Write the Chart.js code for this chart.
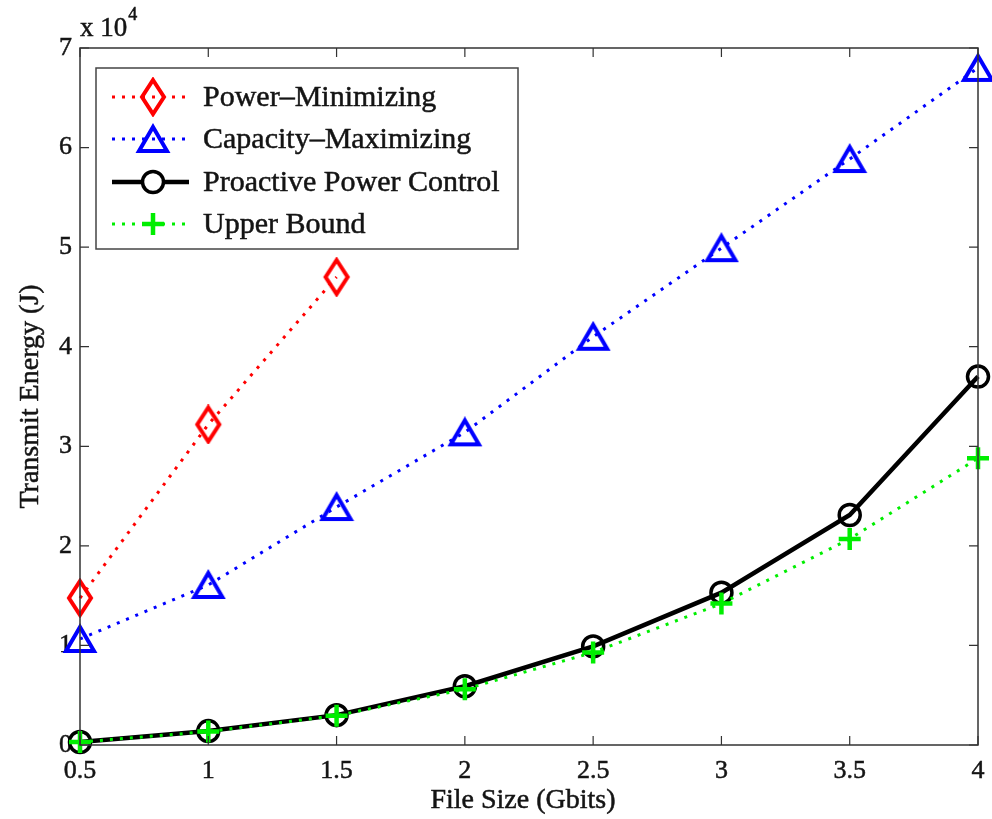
<!DOCTYPE html>
<html>
<head>
<meta charset="utf-8">
<script src="https://cdn.jsdelivr.net/npm/chart.js@4"></script>
<style>
html,body{margin:0;padding:0;background:#fff;}
#wrap{width:992px;height:819px;}
</style>
</head>
<body>
<div id="wrap"><canvas id="c" width="992" height="819"></canvas></div>
<script>
const fileSizes = [0.5, 1, 1.5, 2, 2.5, 3, 3.5, 4];
const powerMin = [14760, 32190, 47000];
const capacityMax = [10650, 16070, 23900, 31400, 41000, 49900, 58850, 68000];
const proactive = [300, 1400, 3000, 5900, 9900, 15300, 23100, 37000];
const upperBound = [300, 1350, 2950, 5600, 9300, 14200, 20700, 28800];
const xTicks = [0.5, 1, 1.5, 2, 2.5, 3, 3.5, 4];
const yTicks = [0, 1, 2, 3, 4, 5, 6, 7];
const yScaleFactor = 10000;
const seriesNames = ['Power\u2013Minimizing', 'Capacity\u2013Maximizing', 'Proactive Power Control', 'Upper Bound'];
const xTitle = 'File Size (Gbits)';
const yTitle = 'Transmit Energy (J)';

const FONT = '"Liberation Serif", "Times New Roman", serif';
const TXT = '#141414';
const STROKE_W = 0.5;

function makeDiamond(color) {
  const w = 30, h = 40, c = document.createElement('canvas');
  c.width = w; c.height = h;
  const g = c.getContext('2d');
  g.strokeStyle = color; g.lineWidth = 4; g.lineJoin = 'miter';
  g.beginPath();
  g.moveTo(w/2, 3); g.lineTo(w-4, h/2); g.lineTo(w/2, h-3); g.lineTo(4, h/2); g.closePath();
  g.stroke();
  return c;
}
function makeTriangle(color) {
  const w = 36, h = 32, c = document.createElement('canvas');
  c.width = w; c.height = h;
  const g = c.getContext('2d');
  g.strokeStyle = color; g.lineWidth = 4; g.lineJoin = 'miter';
  g.beginPath();
  g.moveTo(w/2, 4); g.lineTo(w-4, h-4); g.lineTo(4, h-4); g.closePath();
  g.stroke();
  return c;
}
const diamondImg = makeDiamond('#ff0000');
const triangleImg = makeTriangle('#0000ff');

const toXY = (arr) => arr.map((v, i) => ({x: fileSizes[i], y: v}));

function txt(ctx, s, x, y) {
  ctx.fillText(s, x, y);
  ctx.lineWidth = STROKE_W;
  ctx.strokeStyle = TXT;
  ctx.strokeText(s, x, y);
}

const boxPlugin = {
  id: 'boxPlugin',
  afterDraw(chart) {
    const ctx = chart.ctx;
    const a = chart.chartArea;
    const xs = chart.scales.x, ys = chart.scales.y;
    ctx.save();
    // box
    ctx.strokeStyle = '#333';
    ctx.lineWidth = 1.5;
    ctx.strokeRect(a.left, a.top, a.right - a.left, a.bottom - a.top);
    // inward ticks
    const tl = 9;
    ctx.beginPath();
    xTicks.forEach(t => {
      const px = xs.getPixelForValue(t);
      ctx.moveTo(px, a.bottom); ctx.lineTo(px, a.bottom - tl);
      ctx.moveTo(px, a.top); ctx.lineTo(px, a.top + tl);
    });
    yTicks.forEach(t => {
      const py = ys.getPixelForValue(t * yScaleFactor);
      ctx.moveTo(a.left, py); ctx.lineTo(a.left + tl, py);
      ctx.moveTo(a.right, py); ctx.lineTo(a.right - tl, py);
    });
    ctx.lineWidth = 1.2;
    ctx.stroke();

    // exponent label
    ctx.fillStyle = TXT;
    ctx.textBaseline = 'alphabetic';
    ctx.textAlign = 'left';
    ctx.font = '27px ' + FONT;
    txt(ctx, 'x 10', 80, 36);
    const w10 = ctx.measureText('x 10').width;
    ctx.font = '18px ' + FONT;
    txt(ctx, '4', 80 + w10 + 1, 20);

    // axis titles
    ctx.font = '28px ' + FONT;
    ctx.textAlign = 'center';
    ctx.textBaseline = 'middle';
    txt(ctx, xTitle, (a.left + a.right) / 2 - 6, 801);
    ctx.save();
    ctx.translate(31, (a.top + a.bottom) / 2);
    ctx.rotate(-Math.PI / 2);
    txt(ctx, yTitle, 0, 0);
    ctx.restore();

    // legend
    const lx = 96, ly = 68, lw = 422, lh = 181;
    ctx.fillStyle = '#fff';
    ctx.fillRect(lx, ly, lw, lh);
    ctx.strokeStyle = '#444';
    ctx.lineWidth = 1.5;
    ctx.strokeRect(lx, ly, lw, lh);
    const rows = [97, 139, 182, 224];
    const ds = chart.data.datasets;
    rows.forEach((ry, i) => {
      const d = ds[i];
      ctx.save();
      ctx.strokeStyle = d.borderColor;
      ctx.lineWidth = d.borderWidth;
      ctx.setLineDash(d.borderDash || []);
      ctx.beginPath();
      ctx.moveTo(112, ry); ctx.lineTo(189, ry);
      ctx.stroke();
      ctx.restore();
      const mx = 153;
      const ps = d.pointStyle;
      if (ps instanceof HTMLCanvasElement) {
        ctx.drawImage(ps, mx - ps.width / 2, ry - ps.height / 2);
      } else {
        ctx.save();
        ctx.strokeStyle = d.pointBorderColor;
        ctx.lineWidth = d.pointBorderWidth;
        ctx.beginPath();
        if (ps === 'circle') {
          ctx.fillStyle = '#fff';
          ctx.arc(mx, ry, d.pointRadius, 0, Math.PI * 2);
          ctx.fill();
          ctx.stroke();
        } else if (ps === 'cross') {
          ctx.moveTo(mx - d.pointRadius, ry); ctx.lineTo(mx + d.pointRadius, ry);
          ctx.moveTo(mx, ry - d.pointRadius); ctx.lineTo(mx, ry + d.pointRadius);
          ctx.stroke();
        }
        ctx.restore();
      }
      ctx.fillStyle = TXT;
      ctx.font = '30px ' + FONT;
      ctx.textAlign = 'left';
      ctx.textBaseline = 'middle';
      txt(ctx, seriesNames[i], 203, ry + 1);
    });
    ctx.restore();
  }
};

new Chart(document.getElementById('c'), {
  type: 'line',
  data: {
    datasets: [
      {
        label: seriesNames[0], data: toXY(powerMin), order: 3,
        borderColor: '#ff0000', borderWidth: 3, borderDash: [3, 7],
        pointStyle: diamondImg, pointRadius: 15, fill: false, clip: false
      },
      {
        label: seriesNames[1], data: toXY(capacityMax), order: 2,
        borderColor: '#0000ff', borderWidth: 3, borderDash: [3, 7],
        pointStyle: triangleImg, pointRadius: 16, fill: false, clip: false
      },
      {
        label: seriesNames[2], data: toXY(proactive), order: 1,
        borderColor: '#000000', borderWidth: 4.5,
        pointStyle: 'circle', pointRadius: 10.5, pointBorderWidth: 3.5,
        pointBorderColor: '#000000', pointBackgroundColor: 'rgba(0,0,0,0)', fill: false, clip: false
      },
      {
        label: seriesNames[3], data: toXY(upperBound), order: 0,
        borderColor: '#00ee00', borderWidth: 3, borderDash: [3, 7],
        pointStyle: 'cross', pointRadius: 11, pointBorderWidth: 4.5,
        pointBorderColor: '#00ee00', pointBackgroundColor: '#00ee00', fill: false, clip: false
      }
    ]
  },
  options: {
    responsive: false,
    animation: false,
    layout: { autoPadding: false, padding: { top: 48, right: 14, left: 0, bottom: 0 } },
    plugins: { legend: { display: false }, tooltip: { enabled: false } },
    elements: { line: { tension: 0 } },
    scales: {
      x: {
        type: 'linear', min: 0.5, max: 4,
        afterFit(s) { s.height = 74; s.paddingRight = 0; s.paddingLeft = 0; },
        afterBuildTicks(s) { s.ticks = xTicks.map(v => ({value: v})); },
        grid: { display: false, drawTicks: false },
        border: { display: false },
        ticks: {
          color: TXT, padding: 11, textStrokeColor: TXT, textStrokeWidth: STROKE_W,
          font: { family: FONT, size: 26 },
          callback: (v) => String(v),
          maxRotation: 0, autoSkip: false
        }
      },
      y: {
        type: 'linear', min: 0, max: 70000,
        afterFit(s) { s.width = 80; s.paddingTop = 0; s.paddingBottom = 0; },
        afterBuildTicks(s) { s.ticks = yTicks.map(v => ({value: v * yScaleFactor})); },
        grid: { display: false, drawTicks: false },
        border: { display: false },
        ticks: {
          color: TXT, padding: 8, textStrokeColor: TXT, textStrokeWidth: STROKE_W,
          font: { family: FONT, size: 26 },
          callback: (v) => String(v / yScaleFactor),
          autoSkip: false
        }
      }
    }
  },
  plugins: [boxPlugin]
});
</script>
</body>
</html>
